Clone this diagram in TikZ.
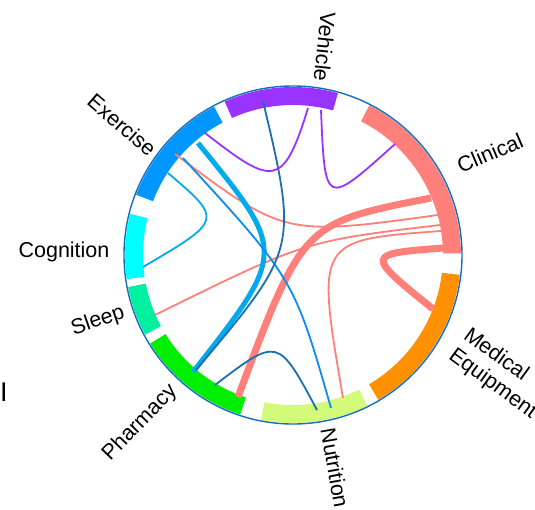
\documentclass[tikz,border=0pt]{standalone}
\usepackage{fontspec}
\setmainfont{Liberation Sans}
\definecolor{vehiclec}{RGB}{153,51,255}
\definecolor{exercisec}{RGB}{0,150,255}
\definecolor{cognitionc}{RGB}{0,255,255}
\definecolor{sleepc}{RGB}{0,240,160}
\definecolor{pharmacyc}{RGB}{0,238,0}
\definecolor{nutritionc}{RGB}{212,250,122}
\definecolor{medicalc}{RGB}{255,145,0}
\definecolor{clinicalc}{RGB}{255,128,122}
\definecolor{rimc}{RGB}{20,110,190}
\definecolor{navyc}{RGB}{25,110,180}
\definecolor{bluec}{RGB}{10,140,240}
\definecolor{lightbluec}{RGB}{0,170,235}
\newcommand\bandseg[3]{\fill[#1] (#2:168) arc[start angle=#2,end angle=#3,radius=168pt] -- (#3:150) arc[start angle=#3,end angle=#2,radius=150pt] -- cycle;}
\begin{document}
\begin{tikzpicture}[x=1pt,y=1pt,
  chord/.style={line width=1.8pt},
  thickchord/.style={line width=5pt},
  fatchord/.style={line width=7pt},
  lbl/.style={font=\fontsize{21.5}{25}\selectfont,inner sep=0pt}]
\useasboundingbox (-293,-254) rectangle (242,255);
% segments
\bandseg{clinicalc}{0.6}{63}
\bandseg{vehiclec}{74.5}{114}
\bandseg{exercisec}{118}{159}
\bandseg{cognitionc}{165.8}{188.3}
\bandseg{sleepc}{191}{208.3}
\bandseg{pharmacyc}{211.8}{251.7}
\bandseg{nutritionc}{259}{296.2}
\bandseg{medicalc}{300.5}{353.2}
\draw[rimc,line width=1.4pt] (0,0) circle[radius=169pt];
% chord ends
\coordinate (exPu) at (-88,122);
\coordinate (vePu) at (15,147);
\coordinate (vePu2) at (28,145);
\coordinate (clPu) at (102,111);
\coordinate (veNv) at (-30,154);
\coordinate (phNv) at (-97,-115);
\coordinate (exLb) at (-95,112);
\coordinate (phLb) at (-100,-117);
\coordinate (exBl) at (-110,97);
\coordinate (nuBl) at (38,-153);
\coordinate (exCg) at (-125,82);
\coordinate (cgEx) at (-150,-12);
\coordinate (exSa) at (-118,101);
\coordinate (clEx) at (145,40);
\coordinate (slSa) at (-138,-60);
\coordinate (clSl) at (147,30);
\coordinate (nuSa) at (50,-143);
\coordinate (clNu) at (148,24);
\coordinate (phSa) at (-55,-142);
\coordinate (clPh) at (138,57);
\coordinate (clMe) at (150,7);
\coordinate (meCl) at (140,-54);
\coordinate (phNu) at (-78,-130);
\coordinate (nuPh) at (24,-155);
% chords
\draw[fatchord,clinicalc] (phSa) .. controls (10,32) .. (clPh);
\draw[fatchord,clinicalc] (clMe) .. controls (72,1) .. (meCl);
\draw[chord,clinicalc] (exSa) .. controls (-8.5,19) .. (clEx);
\draw[chord,clinicalc] (slSa) .. controls (12,14) .. (clSl);
\draw[chord,clinicalc] (nuSa) .. controls (23,15) .. (clNu);
\draw[thickchord,lightbluec] (exLb) .. controls (-6,3) .. (phLb);
\draw[chord,lightbluec] (exCg) .. controls (-70,35) .. (cgEx);
\draw[chord,bluec] (exBl) .. controls (1,-24) .. (nuBl);
\draw[chord,navyc] (veNv) .. controls (5,6) .. (phNv);
\draw[chord,navyc] (phNu) .. controls (-15,-82) .. (nuPh);
\draw[chord,vehiclec] (exPu) .. controls (-21,70) and (-10,65) .. (vePu);
\draw[chord,vehiclec] (vePu2) .. controls (32,48) .. (clPu);
% labels
\node[lbl,rotate=-96] (lveh) at (32,208) {Vehicle};
\node[lbl,rotate=23] (lcli) at (197,102) {Clinical};
\node[lbl,rotate=-41] (lexe) at (-171,130) {Exercise};
\node[lbl] (lcog) at (-229,3) {Cognition};
\node[lbl,rotate=19] (lsle) at (-195,-66) {Sleep};
\node[lbl,rotate=46] (lpha) at (-153,-168) {Pharmacy};
\node[lbl,rotate=-80] (lnut) at (42,-213) {Nutrition};
\node[lbl,rotate=-36,align=left] (lmed) at (207,-119) {Medical\\Equipment};
\node[font=\fontsize{27}{30}\selectfont,inner sep=0pt] (lI) at (-289,-137) {I};
\end{tikzpicture}
\end{document}
